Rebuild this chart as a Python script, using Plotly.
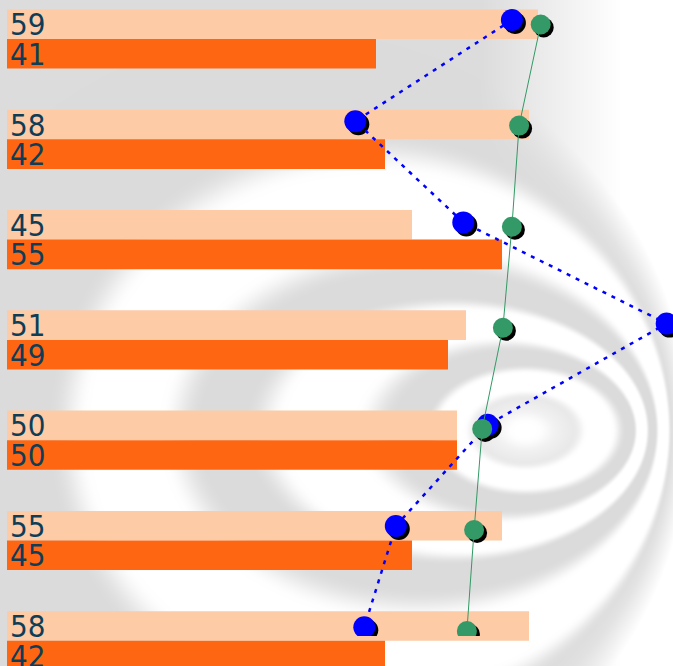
import base64, struct, zlib
import numpy as np
import plotly.graph_objects as go

# ---- data ----
rows = [0, 1, 2, 3, 4, 5, 6]
light_vals = [59, 58, 45, 51, 50, 55, 58]
orange_vals = [41, 42, 55, 49, 50, 45, 42]
blue_vals = [56.1, 38.7, 50.7, 73.3, 53.4, 43.2, 39.7]
green_vals = [59.3, 56.9, 56.1, 55.1, 52.8, 51.9, 51.1]

W, H = 673, 666

# ---- background swirl (procedural decoration) ----
def make_png_gray(arr):
    h, w = arr.shape
    raw = b"".join(b"\x00" + arr[r].tobytes() for r in range(h))
    def chunk(t, d):
        c = struct.pack(">I", len(d)) + t + d
        return c + struct.pack(">I", zlib.crc32(t + d) & 0xFFFFFFFF)
    ihdr = struct.pack(">IIBBBBB", w, h, 8, 0, 0, 0, 0)
    return (b"\x89PNG\r\n\x1a\n" + chunk(b"IHDR", ihdr)
            + chunk(b"IDAT", zlib.compress(raw, 9)) + chunk(b"IEND", b""))

yy, xx = np.mgrid[0:H, 0:W].astype(float)
cy = 430.0
a = np.sqrt((xx - 525) ** 2 + ((yy - cy) / 0.66) ** 2)
for _ in range(60):
    ccx = 525 - 0.8 * np.maximum(0, a - 105)
    q = 0.66 + 0.34 * np.clip((a - 215) / 110, 0, 1)
    a_new = np.sqrt((xx - ccx) ** 2 + ((yy - cy) / q) ** 2)
    a = 0.5 * a + 0.5 * a_new
ph = np.interp(a, [0, 40, 108, 215, 324, 3000], [-0.45, 0, 1, 2, 3, 3])
cc = np.cos(2 * np.pi * ph)
g = np.clip((cc + 0.45) / 1.3, 0, 1)
g = g * g * (3 - 2 * g)
g = g * np.clip(a / 80, 0.3, 1)
ring = 255 - 36 * g
outer = 220 + 35 * np.clip((xx - 480) / 140, 0, 1)
wgt = np.clip((a - 300) / 100, 0, 1)
bgv = (1 - wgt) * ring + wgt * outer
bg = np.clip(bgv, 0, 255).astype(np.uint8)
src = "data:image/png;base64," + base64.b64encode(make_png_gray(bg)).decode()

fig = go.Figure()

font = dict(family="DejaVu Sans Condensed, Liberation Sans, sans-serif",
            size=31, color="#0e3d57")
bar_w = 0.295
fig.add_trace(go.Bar(
    y=rows, x=light_vals, orientation="h", offset=-bar_w, width=bar_w,
    marker=dict(color="#fdcba6", line=dict(width=0)),
    text=[str(v) for v in light_vals], textposition="inside", textangle=0,
    insidetextanchor="start", constraintext="none", insidetextfont=font,
    xaxis="x", yaxis="y", hoverinfo="skip"))
fig.add_trace(go.Bar(
    y=rows, x=orange_vals, orientation="h", offset=0, width=bar_w,
    marker=dict(color="#ff6611", line=dict(width=0)),
    text=[str(v) for v in orange_vals], textposition="inside", textangle=0,
    insidetextanchor="start", constraintext="none", insidetextfont=font,
    xaxis="x", yaxis="y", hoverinfo="skip"))

# shadows (drawn first)
fig.add_trace(go.Scatter(x=blue_vals, y=rows, mode="markers", xaxis="x2", yaxis="y2",
                         marker=dict(size=22, color="black", line=dict(width=0)),
                         hoverinfo="skip"))
fig.add_trace(go.Scatter(x=green_vals, y=rows, mode="markers", xaxis="x2", yaxis="y3",
                         marker=dict(size=20, color="black", line=dict(width=0)),
                         hoverinfo="skip"))
# series
fig.add_trace(go.Scatter(x=blue_vals, y=rows, mode="lines+markers", xaxis="x3", yaxis="y4",
                         line=dict(color="#0000ff", width=2.5, dash="4px,6px"),
                         marker=dict(size=22, color="#0000ff", line=dict(width=0)),
                         hoverinfo="skip"))
fig.add_trace(go.Scatter(x=green_vals, y=rows, mode="lines+markers", xaxis="x3", yaxis="y5",
                         line=dict(color="#339966", width=1),
                         marker=dict(size=20, color="#339966", line=dict(width=0)),
                         hoverinfo="skip"))

px_x = 9.0
x0 = -7 / px_x
xr = [x0, x0 + W / px_x]
sh = 3.0  # shadow offset px
xr2 = [xr[0] - sh / px_x, xr[1] - sh / px_x]

def yr(p0, step, bottom_px, shift=0.0):
    top = -(p0 + shift) / step
    bot = (bottom_px - p0 - shift) / step
    return [bot, top]

hid = dict(visible=False, showgrid=False, zeroline=False, fixedrange=True)
line_dom = [(H - 636) / H, 1]
fig.update_layout(
    width=W, height=H, autosize=False,
    margin=dict(l=0, r=0, t=0, b=0, pad=0),
    paper_bgcolor="white", plot_bgcolor="rgba(0,0,0,0)",
    showlegend=False, barmode="overlay",
    xaxis=dict(range=xr, domain=[0, 1], anchor="y", **hid),
    xaxis2=dict(range=xr2, overlaying="x", anchor="y2", **hid),
    xaxis3=dict(range=xr, overlaying="x", anchor="y4", **hid),
    yaxis=dict(range=yr(39, 100.3, H), domain=[0, 1], anchor="x", **hid),
    yaxis2=dict(range=yr(20, 101.2, 636, sh), domain=line_dom, anchor="x2", **hid),
    yaxis3=dict(range=yr(24.5, 101.1, 636, sh), domain=line_dom, anchor="x2", **hid),
    yaxis4=dict(range=yr(20, 101.2, 636), domain=line_dom, anchor="x3", **hid),
    yaxis5=dict(range=yr(24.5, 101.1, 636), domain=line_dom, anchor="x3", **hid),
    images=[dict(source=src, xref="paper", yref="paper", x=0, y=1, sizex=1, sizey=1,
                 sizing="stretch", layer="below", xanchor="left", yanchor="top")],
)

fig.write_html("out.html")
